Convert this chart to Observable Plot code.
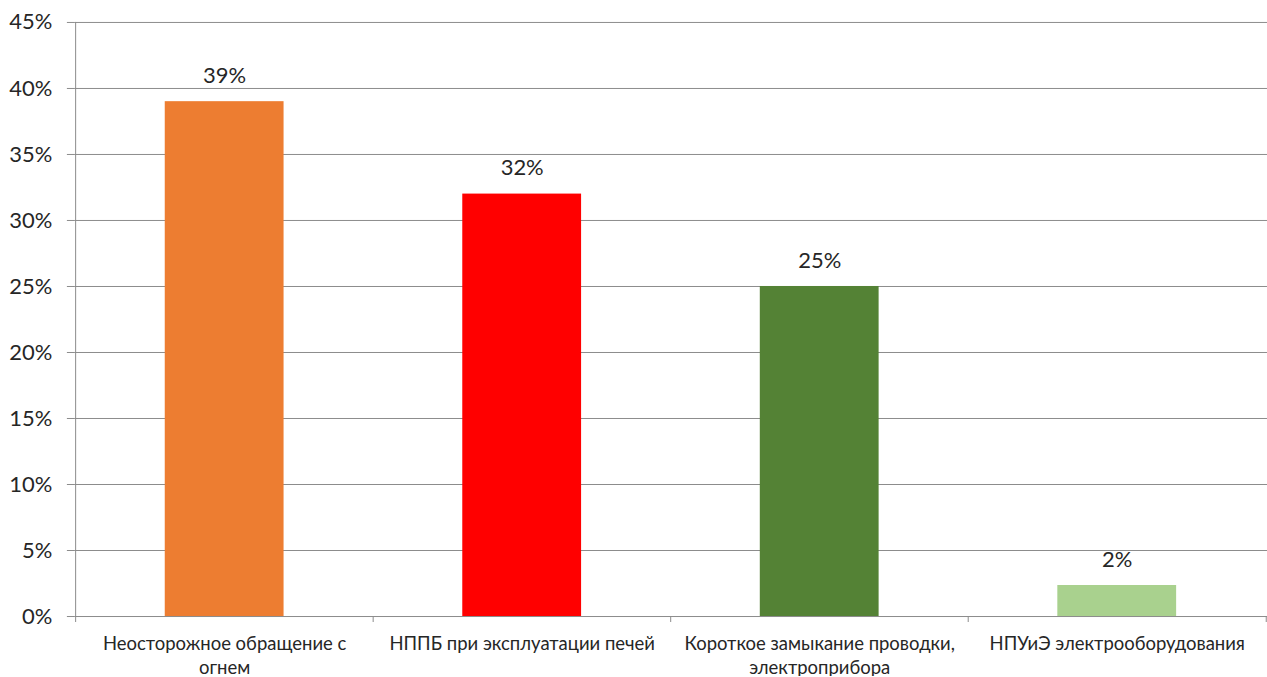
<!DOCTYPE html>
<html><head><meta charset="utf-8">
<script src="https://cdn.jsdelivr.net/npm/d3@7"></script>
<script src="https://cdn.jsdelivr.net/npm/@observablehq/plot@0.6"></script>
<style>html,body{margin:0;padding:0;background:#fff;overflow:hidden}</style>
</head><body><div id="chart"></div>
<script>
const categories = [
  "Неосторожное обращение с\nогнем",
  "НППБ при эксплуатации печей",
  "Короткое замыкание проводки,\nэлектроприбора",
  "НПУиЭ электрооборудования"
];
const values = [0.39, 0.32, 0.25, 0.0235];
const valueLabels = ["39%", "32%", "25%", "2%"];
const colors = ["#ED7D31", "#FF0000", "#548235", "#A9D18E"];
const yTicks = [0, 0.05, 0.10, 0.15, 0.20, 0.25, 0.30, 0.35, 0.40, 0.45];

const data = categories.map((c, i) => ({category: c, value: values[i], label: valueLabels[i], color: colors[i]}));

const W = 1269, H = 677, mL = 75, mR = 0, mT = 22, mB = 60;
const step = (W - mL - mR) / categories.length;
const grid = "#8c8c8c";

const chart = Plot.plot({
  width: W, height: H,
  marginLeft: mL, marginRight: mR, marginTop: mT, marginBottom: mB,
  style: {fontFamily: "Lato", color: "#262626", background: "#fff"},
  x: {domain: categories, paddingInner: 0.6, paddingOuter: 0.3, axis: null},
  y: {domain: [0, 0.45], axis: null},
  color: {type: "identity"},
  marks: [
    Plot.ruleY(yTicks, {stroke: grid, strokeWidth: 1}),
    Plot.axisY({ticks: yTicks, tickSize: 8, tickPadding: 15, stroke: grid,
      tickFormat: d => Math.round(d * 100) + "%", fontSize: 22, label: null}),
    Plot.barY(data, {x: "category", y: "value", fill: "color"}),
    Plot.text(data, {x: "category", y: "value", text: "label", dy: -26, fontSize: 22, fill: "#262626"}),
    Plot.axisX({ticks: categories, tickSize: 6, dx: -step / 2, stroke: grid, tickFormat: () => "", label: null}),
    Plot.axisX({ticks: [categories[categories.length - 1]], tickSize: 6, dx: step / 2, stroke: grid, tickFormat: () => "", label: null}),
    Plot.ruleX([categories[0]], {dx: -step / 2, stroke: grid, y1: 0, y2: 0.45}),
    Plot.axisX({ticks: categories, tickSize: 0, tickPadding: 16, fontSize: 18.5, lineHeight: 1.3, label: null, fill: "#262626"})
  ]
});
document.getElementById("chart").append(chart);
</script>
</body></html>
